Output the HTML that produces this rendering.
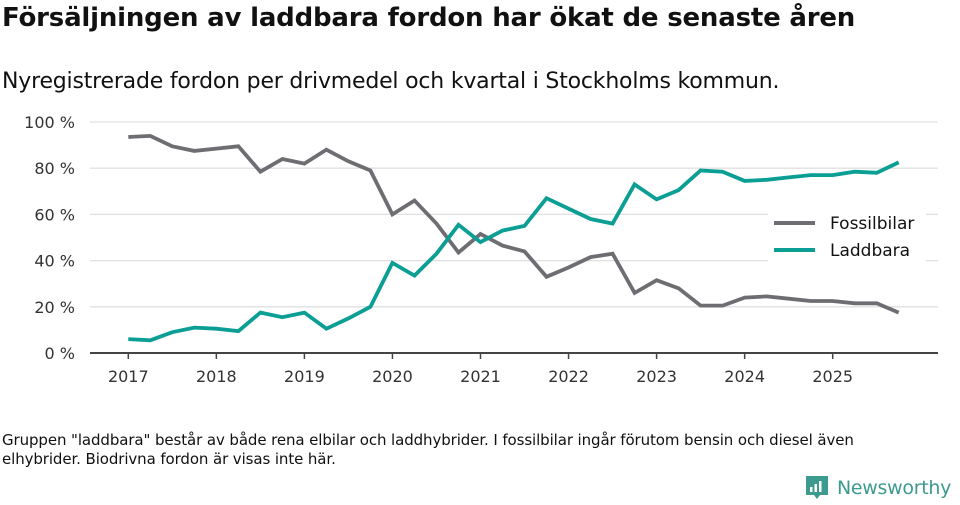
<!DOCTYPE html>
<html><head><meta charset="utf-8"><style>
body{margin:0;width:960px;height:505px;background:#fff;font-family:"Liberation Sans","DejaVu Sans",sans-serif;color:#111;overflow:hidden;position:relative}
#title{position:absolute;left:2px;top:3px;font-size:26px;font-weight:bold;margin:0;font-family:"DejaVu Sans",sans-serif;letter-spacing:-0.2px;white-space:nowrap}
#sub{position:absolute;left:2px;top:69px;font-size:22px;font-family:"DejaVu Sans",sans-serif;letter-spacing:-0.2px;white-space:nowrap}
#note{position:absolute;left:2px;top:431px;font-size:15px;line-height:19px;width:950px;font-family:"DejaVu Sans",sans-serif;letter-spacing:-0.1px;white-space:nowrap}
#logo{position:absolute;left:805px;top:475px;display:flex;align-items:center;color:#3d9a8f;font-size:19px;font-family:"DejaVu Sans",sans-serif;letter-spacing:-0.3px;white-space:nowrap}
svg{position:absolute;left:0;top:0}
</style></head><body>
<h1 id="title">Försäljningen av laddbara fordon har ökat de senaste åren</h1>
<div id="sub">Nyregistrerade fordon per drivmedel och kvartal i Stockholms kommun.</div>
<svg id="chart" width="960" height="505"></svg>
<div id="note">Gruppen "laddbara" består av både rena elbilar och laddhybrider. I fossilbilar ingår förutom bensin och diesel även<br>elhybrider. Biodrivna fordon är visas inte här.</div>
<div id="logo"><svg width="24" height="26" viewBox="0 0 24 26" style="position:static;margin-right:8px"><path d="M1 1h22v19h-8l-3 4-3-4H1z" fill="#3d9a8f"/><rect x="5" y="12" width="2.5" height="5" fill="#fff"/><rect x="9.5" y="9" width="2.5" height="8" fill="#fff"/><rect x="14" y="6" width="2.5" height="11" fill="#fff"/></svg>Newsworthy</div>
<script>
const years=[2017,2018,2019,2020,2021,2022,2023,2024,2025];
const yTicks=[0,20,40,60,80,100];
const fossil=[93.5,94,89.5,87.5,88.5,89.5,78.5,84,82,88,83,79,60,66,56,43.5,51.5,46.5,44,33,37,41.5,43,26,31.5,28,20.5,20.5,24,24.5,23.5,22.5,22.5,21.5,21.5,17.5];
const laddbara=[6,5.5,9,11,10.5,9.5,17.5,15.5,17.5,10.5,15,20,39,33.5,43,55.5,48,53,55,67,62.5,58,56,73,66.5,70.5,79,78.5,74.5,75,76,77,77,78.5,78,82.5];
const NS="http://www.w3.org/2000/svg";
const svg=document.getElementById('chart');
const x=t=>128.3+(t-2017)*88.05;
const y=v=>353-v*2.31;
function el(tag,attrs,parent){const e=document.createElementNS(NS,tag);for(const k in attrs)e.setAttribute(k,attrs[k]);(parent||svg).appendChild(e);return e;}
yTicks.forEach(v=>{
  if(v>0){const g=el('line',{x1:90,x2:938,y1:y(v),y2:y(v),stroke:'#e0e0e0','stroke-width':1.3});
  
  }
  const t=el('text',{x:75,y:y(v)+6,'text-anchor':'end','font-size':16,fill:'#333','font-family':'DejaVu Sans, sans-serif'});
  t.textContent=v+' %';
  
  
});
const ax=el('line',{x1:90,x2:938,y1:353,y2:353,stroke:'#444','stroke-width':2});


years.forEach(yr=>{
  const tk=el('line',{x1:x(yr),x2:x(yr),y1:353,y2:359,stroke:'#444','stroke-width':1.5});
  
  
  const t=el('text',{x:x(yr),y:382,'text-anchor':'middle','font-size':16,fill:'#333','font-family':'DejaVu Sans, sans-serif'});
  t.textContent=yr;
  
  
});
function line(data,color,name){
  const d=data.map((v,i)=>(i?'L':'M')+x(2017+i*0.25).toFixed(1)+','+y(v).toFixed(1)).join('');
  const p=el('path',{d:d,fill:'none',stroke:color,'stroke-width':3.8,'stroke-linejoin':'miter'});
  
  
}
line(fossil,'#6e6d72','fossilbilar-line');
line(laddbara,'#0b9e94','laddbara-line');
const lg=el('g',{});


el('rect',{x:768,y:213,width:158,height:49,fill:'#fff'},lg);
[['Fossilbilar','#6e6d72',223],['Laddbara','#0b9e94',250]].forEach(([n,c,yy])=>{
  const g=el('g',{},lg);
  
  
  el('line',{x1:774,x2:815,y1:yy,y2:yy,stroke:c,'stroke-width':4},g);
  const t=el('text',{x:830,y:yy+6,'font-size':17,fill:'#111','font-family':'DejaVu Sans, sans-serif'},g);
  t.textContent=n;
});
</script>
</body></html>
